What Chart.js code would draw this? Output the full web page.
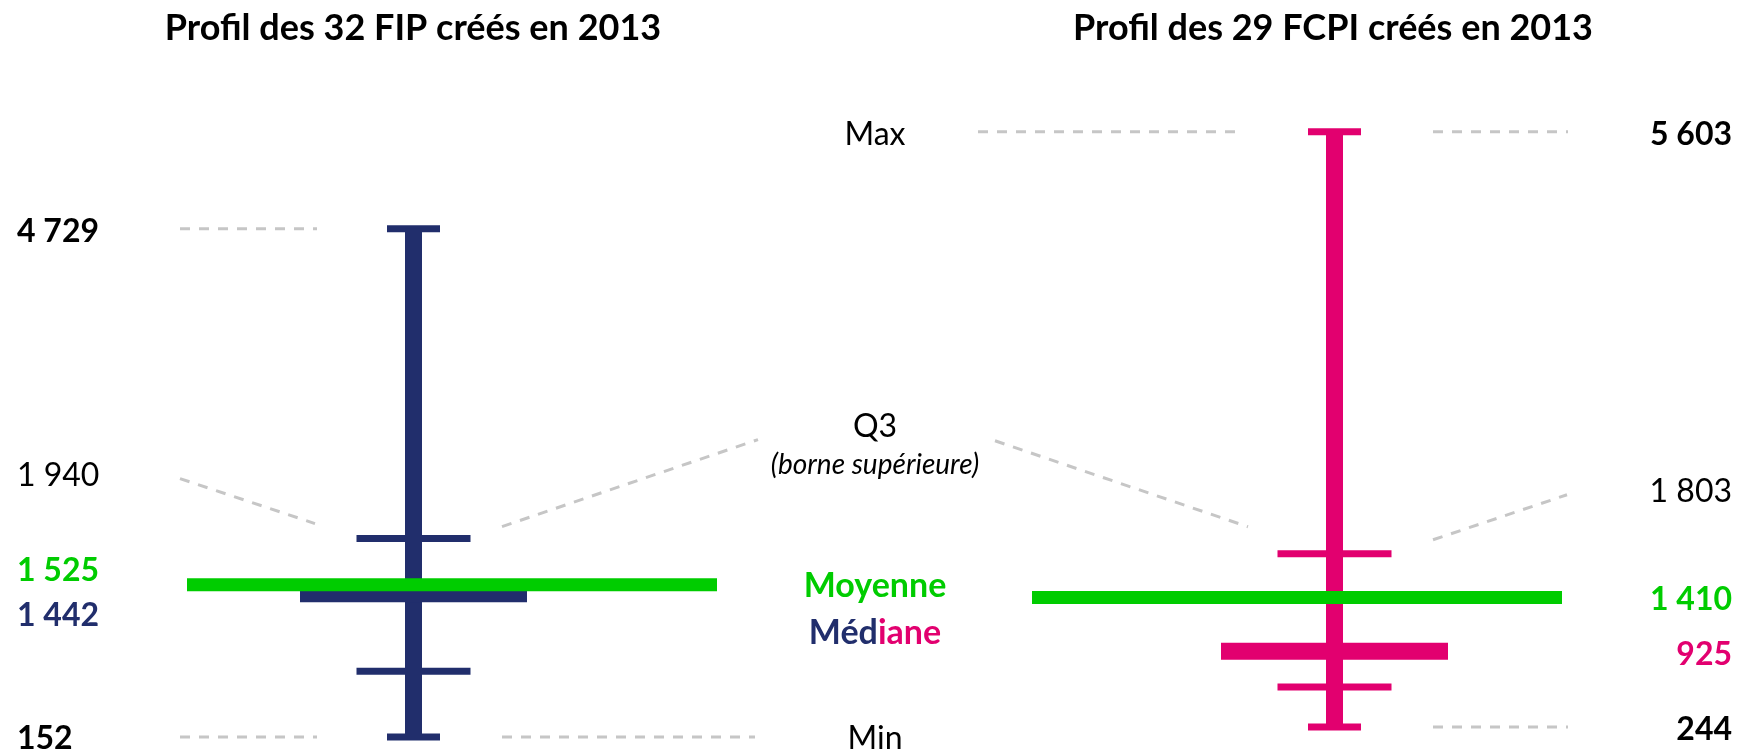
<!DOCTYPE html>
<html lang="fr">
<head>
<meta charset="utf-8">
<script src="https://cdn.jsdelivr.net/npm/chart.js@4.4.1/dist/chart.umd.min.js"></script>
<style>
  html, body { margin: 0; padding: 0; background: #fff; }
  #boite { width: 1749px; height: 754px; position: relative; }
</style>
</head>
<body>
<div id="boite"><canvas id="profilChart"></canvas></div>
<script>
// données (montants)
const titres = ["Profil des 32 FIP créés en 2013", "Profil des 29 FCPI créés en 2013"];
const maxi = [4729, 5603];
const q3 = [1940, 1803];
const moyenne = [1525, 1410];
const mediane = [1442, 925];
const q1 = [745, 604]; // pas affiché, estimé d'après la position du trait
const mini = [152, 244];
const couleurs = ["#212E6C", "#E2006F"];

const VERT = "#00CC00";
const GRIS = "#C6C6C6";
const POLICE = "Lato, 'Open Sans', sans-serif";

// mise en page (unités de l'axe x = pixels)
const centres = [413.5, 1334.5];
const moyX = [[187, 717], [1032, 1562]];

function segment(x1, x2, y1, y2, couleur, epaisseur, ordre) {
  return {
    data: [{ x: x1, y: y1 }, { x: x2, y: y2 }],
    showLine: true,
    borderColor: couleur,
    backgroundColor: couleur,
    borderWidth: epaisseur,
    borderCapStyle: "butt",
    pointRadius: 0,
    pointHoverRadius: 0,
    order: ordre
  };
}

const datasets = [];
for (let i = 0; i < centres.length; i++) {
  const c = centres[i];
  const col = couleurs[i];
  datasets.push(segment(c, c, mini[i], maxi[i], col, 17, 3));
  datasets.push(segment(c - 26.5, c + 26.5, maxi[i], maxi[i], col, 7, 3));
  datasets.push(segment(c - 26.5, c + 26.5, mini[i], mini[i], col, 7, 3));
  datasets.push(segment(c - 57, c + 57, q3[i], q3[i], col, 7, 3));
  datasets.push(segment(c - 57, c + 57, q1[i], q1[i], col, 7, 3));
  datasets.push(segment(c - 113.5, c + 113.5, mediane[i], mediane[i], col, 17, 2));
  datasets.push(segment(moyX[i][0], moyX[i][1], moyenne[i], moyenne[i], VERT, 13, 1));
}

function fmt(v) {
  return String(v).replace(/\B(?=(\d{3})+(?!\d))/g, " ");
}

// traits pointillés gris (guides vers les libellés)
const guides = {
  id: "guides",
  beforeDatasetsDraw(chart) {
    const ctx = chart.ctx;
    const xs = chart.scales.x, ys = chart.scales.y;
    const px = v => xs.getPixelForValue(v);
    function trait(x1, y1, x2, y2) {
      ctx.beginPath();
      ctx.moveTo(px(x1), y1);
      ctx.lineTo(px(x2), y2);
      ctx.stroke();
    }
    ctx.save();
    ctx.strokeStyle = GRIS;
    ctx.lineWidth = 3;
    ctx.setLineDash([10, 9]);
    // FIP
    let yMax = ys.getPixelForValue(maxi[0]);
    let yMin = ys.getPixelForValue(mini[0]);
    let yQ3 = ys.getPixelForValue(q3[0]);
    trait(180, yMax, 317, yMax);
    trait(180, yMin, 317, yMin);
    trait(502, yMin, 755, yMin);
    trait(180, yQ3 - 60, 315, yQ3 - 15);
    trait(502, yQ3 - 12, 758, yQ3 - 99);
    // FCPI
    yMax = ys.getPixelForValue(maxi[1]);
    yMin = ys.getPixelForValue(mini[1]);
    yQ3 = ys.getPixelForValue(q3[1]);
    trait(978, yMax, 1242, yMax);
    trait(1433, yMax, 1568, yMax);
    trait(1433, yMin, 1568, yMin);
    trait(995, yQ3 - 113, 1248, yQ3 - 27);
    trait(1433, yQ3 - 14, 1567, yQ3 - 59);
    ctx.restore();
  }
};

// titres et libellés
const libelles = {
  id: "libelles",
  afterDraw(chart) {
    const ctx = chart.ctx;
    const ys = chart.scales.y;
    const py = v => ys.getPixelForValue(v);
    function texte(t, x, y, style, couleur, align) {
      ctx.font = style + " " + POLICE;
      ctx.fillStyle = couleur;
      ctx.textAlign = align;
      ctx.textBaseline = "alphabetic";
      ctx.fillText(t, x, y);
    }
    ctx.save();
    texte(titres[0], 413, 40, "bold 36px", "#000", "center");
    texte(titres[1], 1333, 40, "bold 36px", "#000", "center");

    // valeurs FIP à gauche
    texte(fmt(maxi[0]), 17, py(maxi[0]) + 13, "bold 32px", "#000", "left");
    texte(fmt(q3[0]), 17, py(q3[0]) - 53, "32px", "#000", "left");
    texte(fmt(moyenne[0]), 17, py(moyenne[0]) - 4, "bold 32px", VERT, "left");
    texte(fmt(mediane[0]), 17, py(mediane[0]) + 32, "bold 32px", couleurs[0], "left");
    texte(fmt(mini[0]), 17, py(mini[0]) + 12, "bold 32px", "#000", "left");

    // valeurs FCPI à droite
    texte(fmt(maxi[1]), 1732, py(maxi[1]) + 13, "bold 32px", "#000", "right");
    texte(fmt(q3[1]), 1732, py(q3[1]) - 52, "32px", "#000", "right");
    texte(fmt(moyenne[1]), 1732, py(moyenne[1]) + 13, "bold 32px", VERT, "right");
    texte(fmt(mediane[1]), 1732, py(mediane[1]) + 14, "bold 32px", couleurs[1], "right");
    texte(fmt(mini[1]), 1732, py(mini[1]) + 13, "bold 32px", "#000", "right");

    // légende centrale
    const cx = 875;
    texte("Max", cx, py(maxi[1]) + 13, "32px", "#000", "center");
    texte("Q3", cx, 437, "32px", "#000", "center");
    texte("(borne supérieure)", cx, 474, "italic 28px", "#000", "center");
    texte("Moyenne", cx, 597, "bold 34px", VERT, "center");
    ctx.font = "bold 34px " + POLICE;
    const wTot = ctx.measureText("Médiane").width;
    const wDeb = ctx.measureText("Méd").width;
    texte("Méd", cx - wTot / 2, 644, "bold 34px", couleurs[0], "left");
    texte("iane", cx - wTot / 2 + wDeb, 644, "bold 34px", couleurs[1], "left");
    texte("Min", cx, py(mini[0]) + 12, "32px", "#000", "center");
    ctx.restore();
  }
};

new Chart(document.getElementById("profilChart"), {
  type: "scatter",
  data: { datasets: datasets },
  options: {
    responsive: true,
    maintainAspectRatio: false,
    animation: false,
    layout: { padding: 0 },
    plugins: {
      legend: { display: false },
      tooltip: { enabled: false },
      title: { display: false }
    },
    events: [],
    scales: {
      x: { type: "linear", min: 0, max: 1749, display: false },
      y: { type: "linear", min: 0, max: 6790, display: false }
    }
  },
  plugins: [guides, libelles]
});
</script>
</body>
</html>
